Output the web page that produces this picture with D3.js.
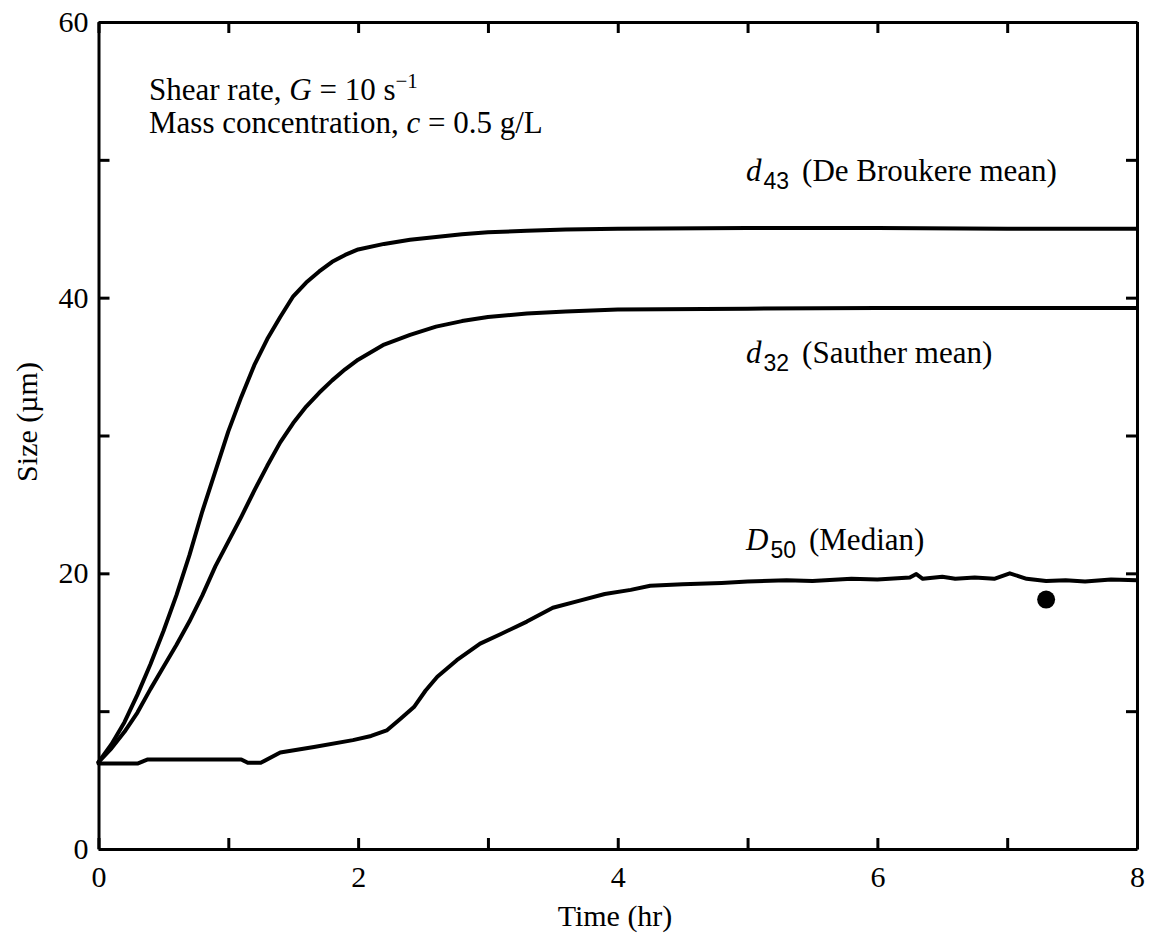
<!DOCTYPE html>
<html>
<head>
<meta charset="utf-8">
<script src="https://cdn.jsdelivr.net/npm/d3@7"></script>
<style>
  html, body { margin: 0; padding: 0; background: #fff; }
  svg { display: block; }
  text { font-family: "Liberation Serif", "Times New Roman", serif; fill: #000; }
</style>
</head>
<body>
<svg id="chart" width="1153" height="940"></svg>
<script>
// Time axis (hr) and size series (µm)
const d43Time  = [0, 0.1, 0.2, 0.3, 0.4, 0.5, 0.6, 0.7, 0.8, 0.9, 1.0, 1.1, 1.2, 1.3, 1.4, 1.5, 1.6, 1.7, 1.8, 1.9, 2.0, 2.2, 2.4, 2.6, 2.8, 3.0, 3.3, 3.6, 4.0, 5.0, 6.0, 7.0, 8.0];
const d43Size  = [6.3, 7.6, 9.2, 11.2, 13.4, 15.8, 18.4, 21.3, 24.5, 27.4, 30.3, 32.8, 35.1, 37.0, 38.6, 40.1, 41.1, 41.9, 42.6, 43.1, 43.5, 43.9, 44.2, 44.4, 44.6, 44.75, 44.85, 44.95, 45.0, 45.05, 45.05, 45.0, 45.0];

const d32Time  = [0, 0.1, 0.2, 0.3, 0.4, 0.5, 0.6, 0.7, 0.8, 0.9, 1.0, 1.1, 1.2, 1.3, 1.4, 1.5, 1.6, 1.7, 1.8, 1.9, 2.0, 2.2, 2.4, 2.6, 2.8, 3.0, 3.3, 3.6, 4.0, 5.0, 6.0, 7.0, 8.0];
const d32Size  = [6.3, 7.3, 8.5, 9.9, 11.6, 13.2, 14.8, 16.5, 18.4, 20.5, 22.3, 24.1, 26.0, 27.8, 29.5, 30.9, 32.1, 33.1, 34.0, 34.8, 35.5, 36.6, 37.3, 37.9, 38.3, 38.6, 38.85, 39.0, 39.15, 39.2, 39.25, 39.25, 39.25];

const d50Time  = [0, 0.3, 0.38, 1.1, 1.15, 1.25, 1.4, 1.66, 1.96, 2.1, 2.22, 2.32, 2.43, 2.52, 2.61, 2.76, 2.94, 3.1, 3.3, 3.5, 3.7, 3.9, 4.1, 4.25, 4.5, 4.8, 5.0, 5.3, 5.5, 5.8, 6.0, 6.25, 6.3, 6.35, 6.5, 6.6, 6.75, 6.9, 7.02, 7.15, 7.3, 7.45, 7.6, 7.8, 8.0];
const d50Size  = [6.2, 6.2, 6.5, 6.5, 6.25, 6.25, 7.0, 7.4, 7.9, 8.2, 8.6, 9.4, 10.3, 11.5, 12.5, 13.7, 14.9, 15.6, 16.5, 17.5, 18.0, 18.5, 18.8, 19.1, 19.2, 19.3, 19.4, 19.5, 19.45, 19.6, 19.55, 19.7, 19.95, 19.6, 19.75, 19.6, 19.7, 19.6, 20.0, 19.6, 19.45, 19.5, 19.4, 19.55, 19.5];

// Single measured median
const markerTime = [7.3];
const markerSize = [18.1];

const xTicks = [0, 1, 2, 3, 4, 5, 6, 7, 8];
const xTickLabels = ["0", "", "2", "", "4", "", "6", "", "8"];
const yTicks = [0, 10, 20, 30, 40, 50, 60];
const yTickLabels = ["0", "", "20", "", "40", "", "60"];

const svg = d3.select("#chart");
const plotLeft = 98.5, plotRight = 1137, plotTop = 22, plotBottom = 849;

const x = d3.scaleLinear().domain([0, 8]).range([plotLeft, plotRight]);
const y = d3.scaleLinear().domain([0, 60]).range([plotBottom, plotTop]);

const tickLen = 11;
const tickFont = 30;

function styleAxis(g) {
  g.select(".domain").attr("stroke", "#000").attr("stroke-width", 3);
  g.selectAll(".tick line").attr("stroke", "#000").attr("stroke-width", 3);
  g.selectAll(".tick text")
    .attr("font-family", "Liberation Serif, Times New Roman, serif")
    .attr("font-size", tickFont)
    .attr("fill", "#000");
}

// Bottom axis
svg.append("g")
  .attr("transform", `translate(0,${plotBottom})`)
  .call(d3.axisBottom(x).tickValues(xTicks).tickSize(-tickLen).tickSizeOuter(0).tickPadding(17)
    .tickFormat((d, i) => xTickLabels[i]))
  .call(styleAxis);

// Top axis
svg.append("g")
  .attr("transform", `translate(0,${plotTop})`)
  .call(d3.axisTop(x).tickValues(xTicks).tickSize(-tickLen).tickSizeOuter(0).tickFormat(""))
  .call(styleAxis);

// Left axis
svg.append("g")
  .attr("transform", `translate(${plotLeft},0)`)
  .call(d3.axisLeft(y).tickValues(yTicks).tickSize(-tickLen).tickSizeOuter(0).tickPadding(10)
    .tickFormat((d, i) => yTickLabels[i]))
  .call(styleAxis);

// Right axis
svg.append("g")
  .attr("transform", `translate(${plotRight},0)`)
  .call(d3.axisRight(y).tickValues(yTicks).tickSize(-tickLen).tickSizeOuter(0).tickFormat(""))
  .call(styleAxis);

// Curves
const line = d3.line().x(d => x(d[0])).y(d => y(d[1]));
const series = [
  d3.zip(d43Time, d43Size),
  d3.zip(d32Time, d32Size),
  d3.zip(d50Time, d50Size)
];
svg.append("g")
  .selectAll("path")
  .data(series)
  .join("path")
  .attr("d", line)
  .attr("fill", "none")
  .attr("stroke", "#000")
  .attr("stroke-width", 4)
  .attr("stroke-linejoin", "round")
  .attr("stroke-linecap", "round");

svg.append("g")
  .selectAll("circle")
  .data(d3.zip(markerTime, markerSize))
  .join("circle")
  .attr("cx", d => x(d[0]))
  .attr("cy", d => y(d[1]))
  .attr("r", 9)
  .attr("fill", "#000");

// Axis titles
svg.append("text")
  .attr("x", 615).attr("y", 926)
  .attr("text-anchor", "middle")
  .attr("font-size", 30)
  .text("Time (hr)");

svg.append("text")
  .attr("transform", "translate(37,422) rotate(-90)")
  .attr("text-anchor", "middle")
  .attr("font-size", 30)
  .text("Size (µm)");

// Conditions
const condFont = 31;
const cond1 = svg.append("text").attr("x", 149).attr("y", 100).attr("font-size", condFont);
cond1.append("tspan").text("Shear rate, ");
cond1.append("tspan").attr("font-style", "italic").text("G");
cond1.append("tspan").text(" = 10 s");
cond1.append("tspan").attr("font-size", 21).attr("dy", -12).text("\u22121");

const cond2 = svg.append("text").attr("x", 149).attr("y", 133).attr("font-size", condFont);
cond2.append("tspan").text("Mass concentration, ");
cond2.append("tspan").attr("font-style", "italic").text("c");
cond2.append("tspan").text(" = 0.5 g/L");

// Series labels
function seriesLabel(yPos, sym, sub, desc) {
  const t = svg.append("text").attr("x", 746).attr("y", yPos).attr("font-size", condFont);
  t.append("tspan").attr("font-style", "italic").text(sym);
  t.append("tspan").attr("font-family", "Liberation Sans, Arial, sans-serif")
    .attr("font-size", 23).attr("dx", 2).attr("dy", 8).text(sub);
  t.append("tspan").attr("dy", -8).attr("dx", 13).text(desc);
}
seriesLabel(181, "d", "43", "(De Broukere mean)");
seriesLabel(363, "d", "32", "(Sauther mean)");
seriesLabel(550, "D", "50", "(Median)");
</script>
</body>
</html>
